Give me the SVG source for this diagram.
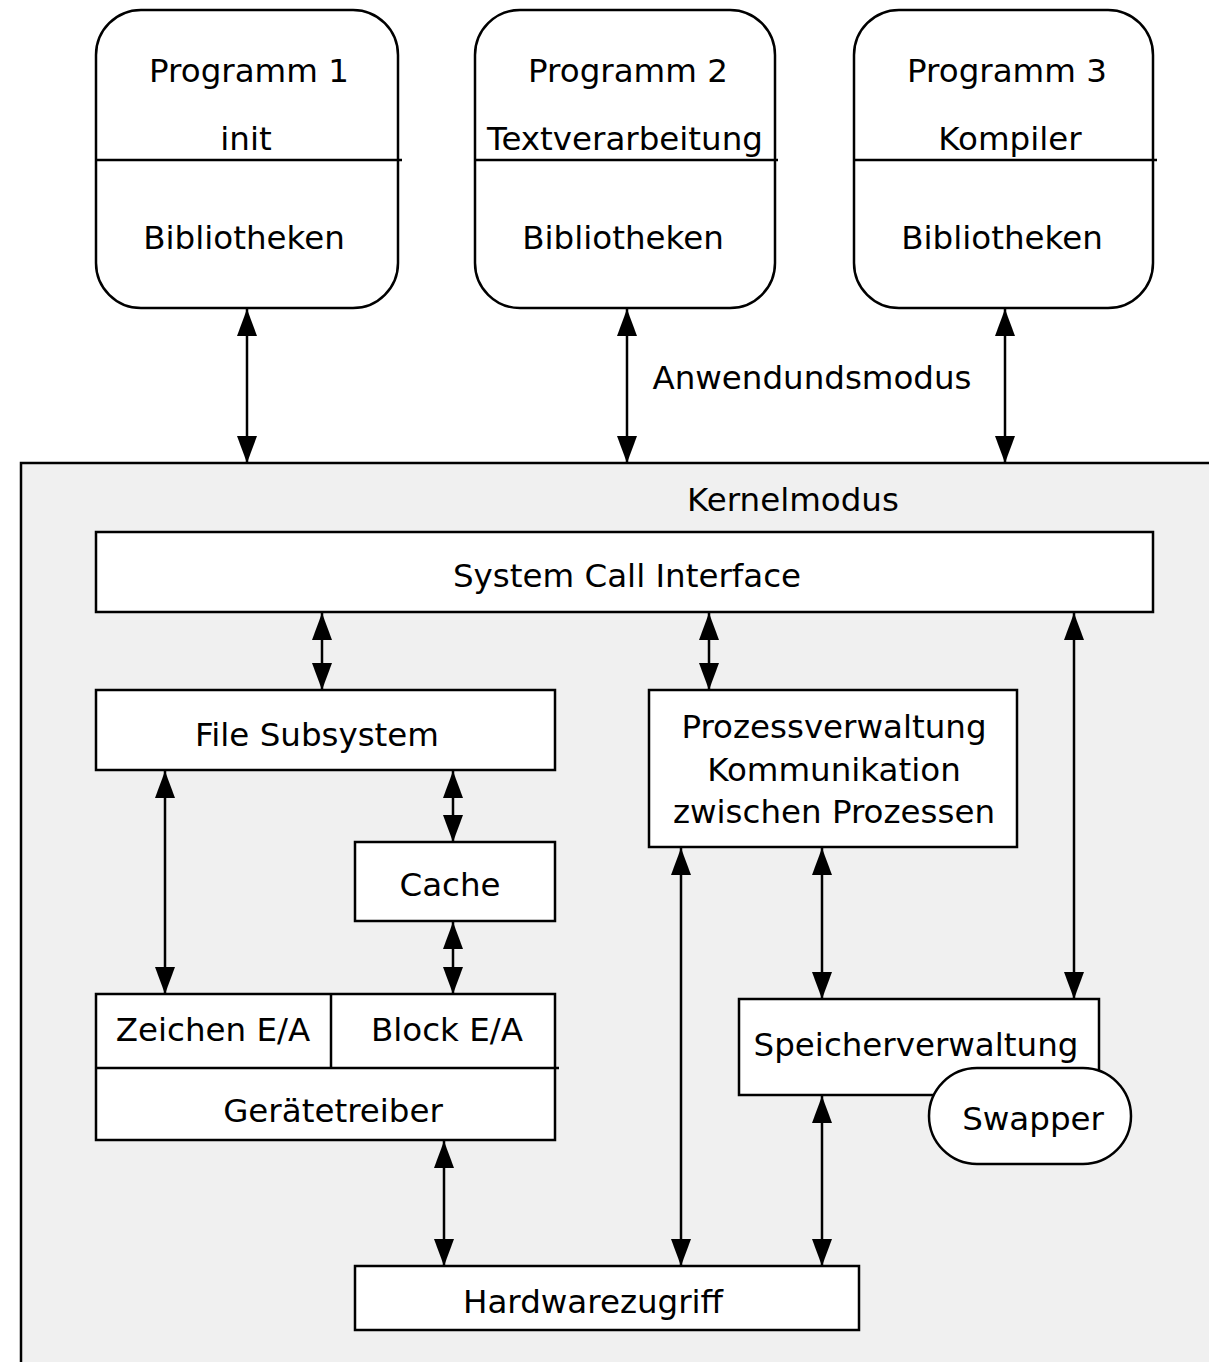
<svg xmlns="http://www.w3.org/2000/svg" width="1209" height="1362" viewBox="0 0 1209 1362">
<style>
.b{fill:#fff;stroke:#000;stroke-width:2.5}
.l{fill:none;stroke:#000;stroke-width:2.5}
text{font-family:"DejaVu Sans",sans-serif;font-size:32.5px;fill:#000;text-anchor:middle}
</style>
<defs>
<marker id="ah" markerUnits="userSpaceOnUse" markerWidth="27" markerHeight="20" refX="27" refY="10" viewBox="0 0 27 20" orient="auto-start-reverse">
<path d="M0,0 L27,10 L0,20 Z" fill="#000"/>
</marker>
</defs>
<rect width="1209" height="1362" fill="#fff"/>
<g id="kernel"><rect x="21" y="463" width="1200" height="910" fill="#f0f0f0" stroke="#000" stroke-width="2.5"/><text x="793" y="511">Kernelmodus</text></g>
<g id="p1"><rect class="b" x="96" y="10" width="302" height="298" rx="45"/><line class="l" x1="96" y1="160" x2="402" y2="160"/><text x="249" y="82">Programm 1</text><text x="246" y="150">init</text><text x="244" y="249">Bibliotheken</text></g>
<g id="p2"><rect class="b" x="475" y="10" width="300" height="298" rx="45"/><line class="l" x1="475" y1="160" x2="778" y2="160"/><text x="628" y="82">Programm 2</text><text x="625" y="150">Textverarbeitung</text><text x="623" y="249">Bibliotheken</text></g>
<g id="p3"><rect class="b" x="854" y="10" width="299" height="298" rx="45"/><line class="l" x1="854" y1="160" x2="1157" y2="160"/><text x="1007" y="82">Programm 3</text><text x="1010" y="150">Kompiler</text><text x="1002" y="249">Bibliotheken</text></g>
<g id="modelabel"><text x="812" y="389">Anwendundsmodus</text></g>
<g id="sci"><rect class="b" x="96" y="532" width="1057" height="80"/><text x="627" y="587">System Call Interface</text></g>
<g id="fs"><rect class="b" x="96" y="690" width="459" height="80"/><text x="317" y="746">File Subsystem</text></g>
<g id="pv"><rect class="b" x="649" y="690" width="368" height="157"/><text x="834" y="738">Prozessverwaltung</text><text x="834" y="781">Kommunikation</text><text x="834" y="823">zwischen Prozessen</text></g>
<g id="cache"><rect class="b" x="355" y="842" width="200" height="79"/><text x="450" y="896">Cache</text></g>
<g id="gt"><rect class="b" x="96" y="994" width="459" height="146"/><line class="l" x1="96" y1="1068" x2="559" y2="1068"/><line class="l" x1="331" y1="994" x2="331" y2="1068"/><text x="213" y="1041">Zeichen E/A</text><text x="447" y="1041">Block E/A</text><text x="333" y="1122">Gerätetreiber</text></g>
<g id="sv"><rect class="b" x="739" y="999" width="360" height="96"/><text x="916" y="1056">Speicherverwaltung</text></g>
<g id="swap"><rect class="b" x="929" y="1068" width="202" height="96" rx="48"/><text x="1033" y="1130">Swapper</text></g>
<g id="hw"><rect class="b" x="355" y="1266" width="504" height="64"/><text x="593" y="1313">Hardwarezugriff</text></g>
<g id="connectors" class="l" marker-start="url(#ah)" marker-end="url(#ah)">
<line x1="247" y1="309" x2="247" y2="463"/>
<line x1="627" y1="309" x2="627" y2="463"/>
<line x1="1005" y1="309" x2="1005" y2="463"/>
<line x1="322" y1="613" x2="322" y2="690"/>
<line x1="709" y1="613" x2="709" y2="690"/>
<line x1="1074" y1="613" x2="1074" y2="999"/>
<line x1="165" y1="771" x2="165" y2="994"/>
<line x1="453" y1="771" x2="453" y2="842"/>
<line x1="453" y1="922" x2="453" y2="994"/>
<line x1="822" y1="848" x2="822" y2="999"/>
<line x1="681" y1="848" x2="681" y2="1266"/>
<line x1="822" y1="1096" x2="822" y2="1266"/>
<line x1="444" y1="1141" x2="444" y2="1266"/>
</g>
</svg>
